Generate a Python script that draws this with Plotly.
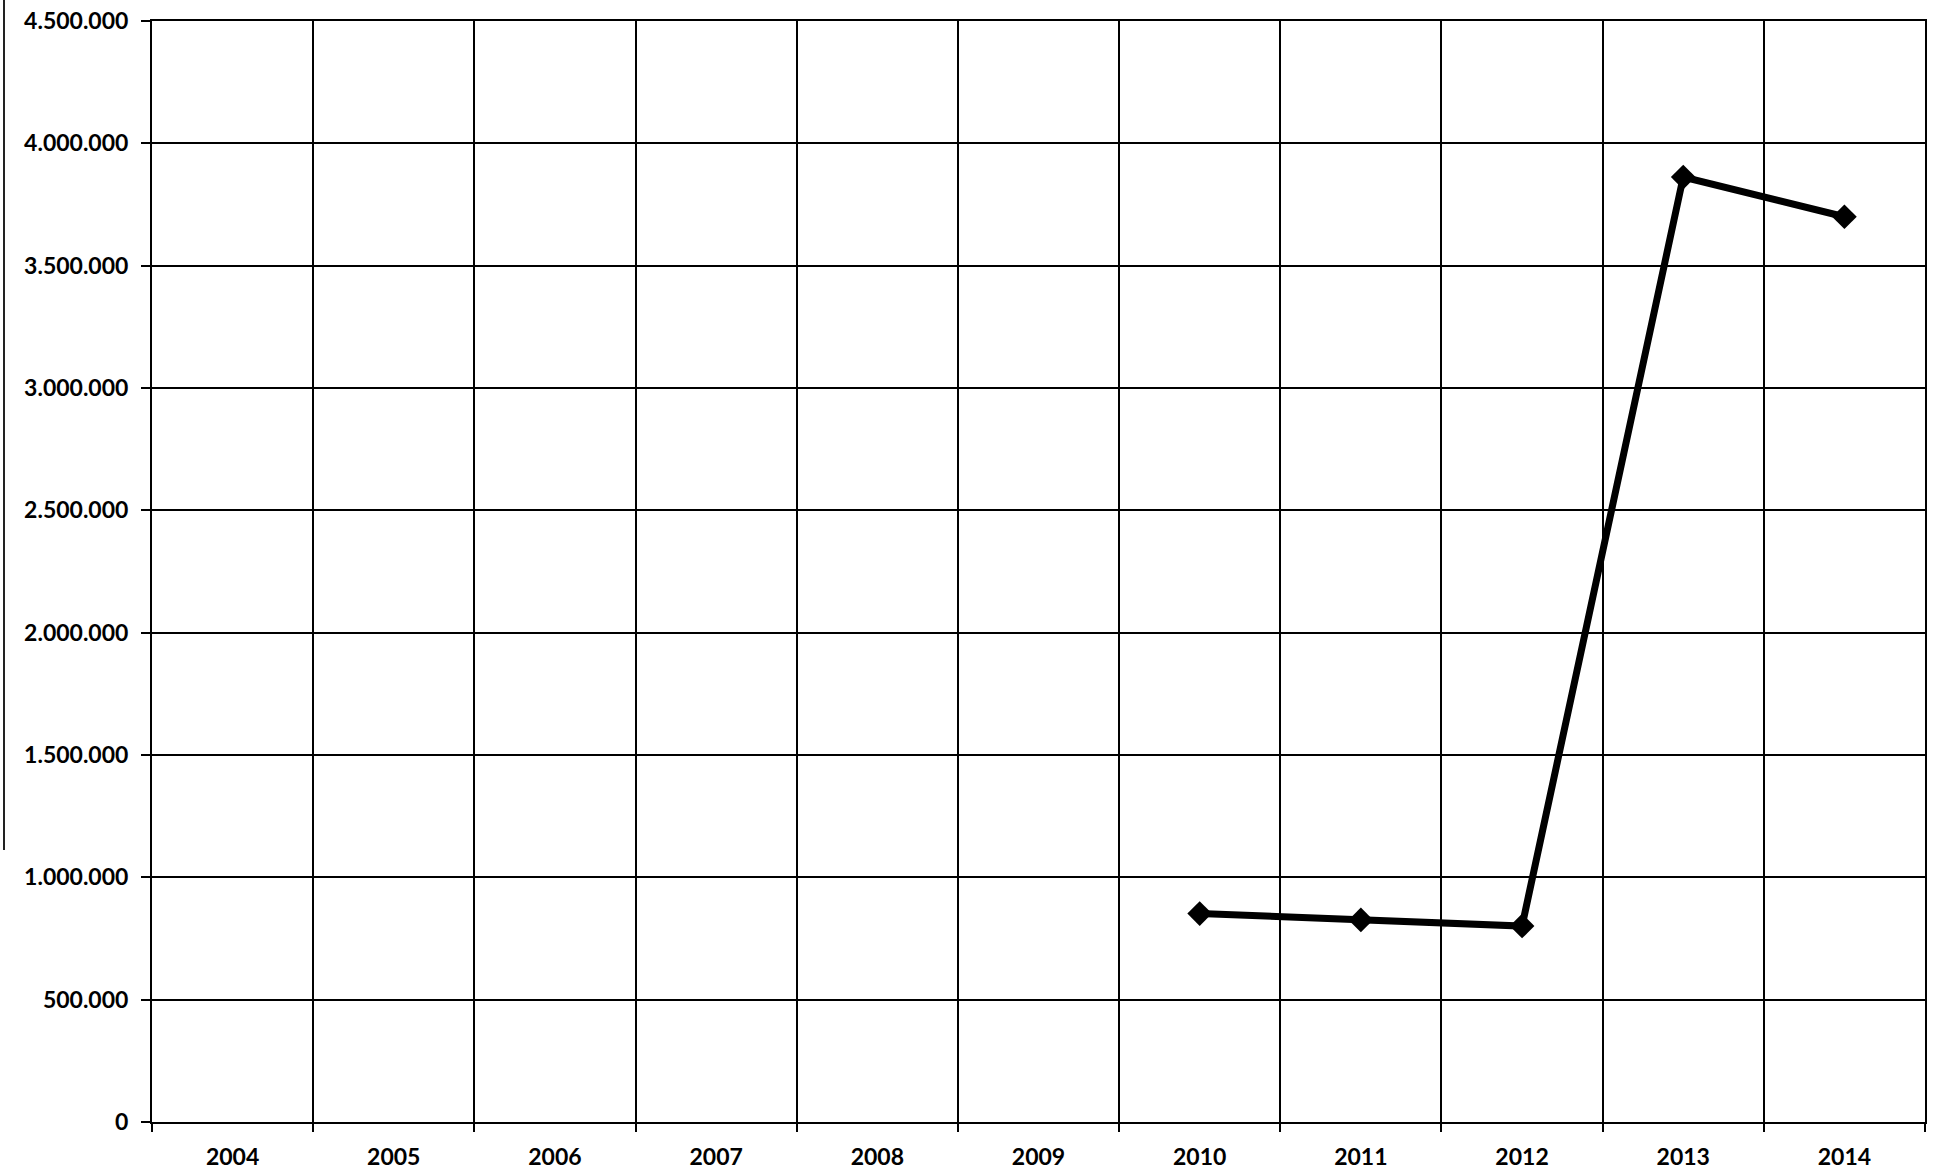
import plotly.graph_objects as go

years = ["2004", "2005", "2006", "2007", "2008", "2009", "2010", "2011", "2012", "2013", "2014"]
series_years = ["2010", "2011", "2012", "2013", "2014"]
series_values = [852000, 826000, 801000, 3862000, 3700000]
y_ticks = [0, 500000, 1000000, 1500000, 2000000, 2500000, 3000000, 3500000, 4000000, 4500000]
y_tick_labels = ["0", "500.000", "1.000.000", "1.500.000", "2.000.000", "2.500.000",
                 "3.000.000", "3.500.000", "4.000.000", "4.500.000"]

W, H = 1953, 1175
L, R, T, B = 152, 28, 21, 53
PW, PH = W - L - R, H - T - B
fig = go.Figure()
fig.add_trace(go.Scatter(
    x=series_years, y=series_values, mode="lines+markers",
    line=dict(color="black", width=7),
    marker=dict(symbol="diamond", size=19, color="black"),
    showlegend=False,
))

font = dict(family="Lato, Open Sans, sans-serif", size=23, color="black", weight="bold")
fig.update_layout(
    width=W, height=H,
    margin=dict(l=L, r=R, t=T, b=B, pad=0),
    paper_bgcolor="white", plot_bgcolor="white",
    font=font,
    xaxis=dict(
        type="category", categoryorder="array", categoryarray=years,
        range=[-0.5, len(years) - 0.5], automargin=False, ticklabeloverflow="allow",
        tickson="boundaries", ticks="outside", ticklen=8, tickwidth=2, tickcolor="black",
        showgrid=True, gridcolor="black", gridwidth=2,
        showline=True, linecolor="black", linewidth=2, mirror=True,
        ticklabelstandoff=13, tickfont=font, zeroline=False,
    ),
    yaxis=dict(
        range=[0, 4500000], tickvals=y_ticks, ticktext=y_tick_labels,
        automargin=False, ticklabeloverflow="allow",
        ticks="outside", ticklen=9, tickwidth=2, tickcolor="black",
        showgrid=True, gridcolor="black", gridwidth=2,
        showline=True, linecolor="black", linewidth=2, mirror=True,
        ticklabelstandoff=8, tickfont=font, zeroline=False,
    ),
    shapes=[dict(type="line", xref="paper", yref="paper",
                 x0=-(L - 4) / PW, x1=-(L - 4) / PW,
                 y0=1 + T / PH, y1=1 - (850 - T) / PH,
                 line=dict(color="#222222", width=2))],
)

fig.write_html("out.html", config={"displayModeBar": False},
               post_script="document.body.style.margin='0';document.body.style.overflow='hidden';")
